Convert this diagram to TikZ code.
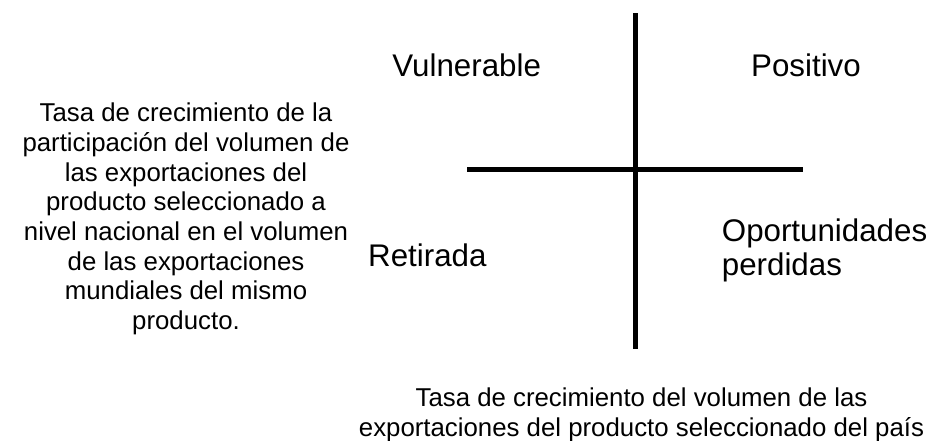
\documentclass[tikz,border=0pt]{standalone}
\usepackage{fontspec}
\setmainfont{Liberation Sans}
\begin{document}
\begin{tikzpicture}[x=1pt,y=-1pt,
    eje/.style={line width=5pt},
    lado/.style={inner sep=0pt, align=center, font=\fontsize{25.8}{29.7}\selectfont},
    cuad/.style={inner sep=0pt, align=left, font=\fontsize{31.3}{33.3}\selectfont}]
    \useasboundingbox (0,0) rectangle (940,440);
    % ejes
    \coordinate (a) at (635,13); \coordinate (b) at (635,349);
    \coordinate (c) at (467,169); \coordinate (d) at (803,169);
    \draw[eje] (a)--(b); \draw[eje] (c)--(d);

    % cuadrantes
    \node[cuad, anchor=base] (vul) at (466.7,76) {Vulnerable};
    \node[cuad, anchor=base] (pos) at (806,76) {Positivo};
    \node[cuad, anchor=base west] (ret) at (368,266.7) {Retirada};
    \node[cuad, anchor=base west] (opo) at (721.7,275) {Oportunidades\\perdidas};

    % textos de los ejes
    \node[lado, anchor=base] (ejey) at (186,329.6) {Tasa de crecimiento de la\\participación del volumen de\\las exportaciones del\\producto seleccionado a\\nivel nacional en el volumen\\de las exportaciones\\mundiales del mismo\\producto.};
    \node[lado, anchor=base] (ejex) at (641.5,436) {Tasa de crecimiento del volumen de las\\exportaciones del producto seleccionado del país};
\end{tikzpicture}
\end{document}
